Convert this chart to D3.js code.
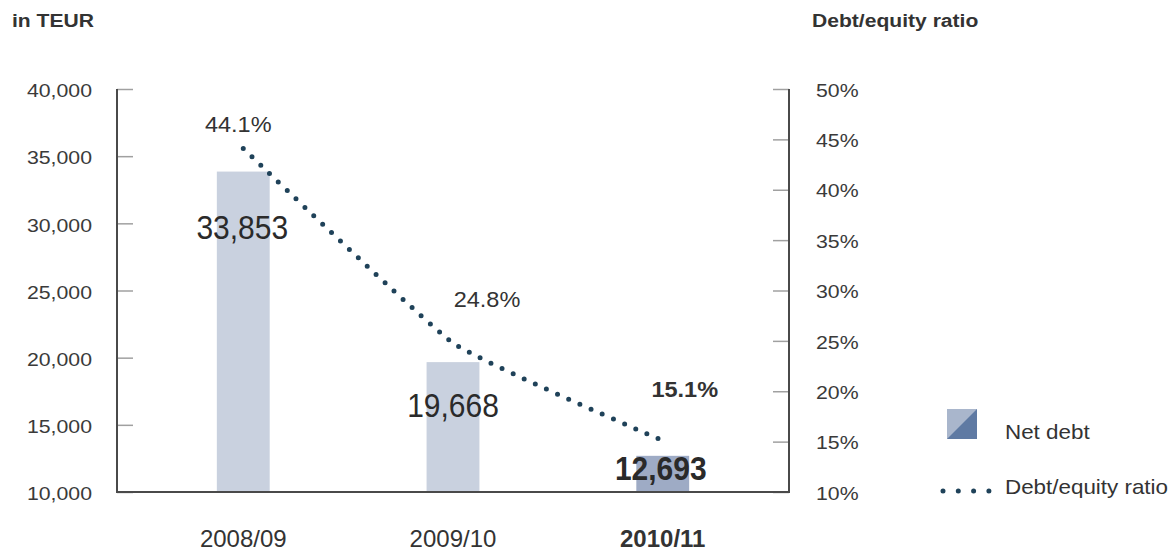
<!DOCTYPE html>
<html>
<head>
<meta charset="utf-8">
<script src="https://cdn.jsdelivr.net/npm/d3@7"></script>
<style>
  html, body { margin: 0; padding: 0; background: #fff; }
  svg { display: block; font-family: "Liberation Sans", Arial, sans-serif; }
</style>
</head>
<body>
<svg id="chart" width="1175" height="553"></svg>
<script>
// Fiscal years and values
const years = ["2008/09", "2009/10", "2010/11"];
const netDebt = [33853, 19668, 12693];          // TEUR
const debtEquity = [44.1, 24.8, 15.1];          // percent
const leftTicks = [10000, 15000, 20000, 25000, 30000, 35000, 40000];
const rightTicks = [10, 15, 20, 25, 30, 35, 40, 45, 50];
const netDebtLabels = ["33,853", "19,668", "12,693"];
const ratioLabels = ["44.1%", "24.8%", "15.1%"];

const svg = d3.select("#chart");

const plot = { left: 117, right: 789, top: 89, bottom: 492 };
const last = years.length - 1;

const x = d3.scaleBand()
  .domain(years)
  .range([plot.left, plot.right])
  .paddingInner(0.748)
  .paddingOuter(0.476);
const cx = d => x(d) + x.bandwidth() / 2;

const yL = d3.scaleLinear().domain([10000, 40000]).range([plot.bottom, plot.top]);
const yR = d3.scaleLinear().domain([10, 50]).range([plot.bottom, plot.top]);

const fmt = d3.format(",");

// Text placed by transform so it can be widened or heightened a little
function placeText(sel, fx, fy, sx, sy) {
  return sel.attr("transform", (d, i) =>
    `translate(${fx(d, i)},${fy(d, i)}) scale(${sx},${sy})`);
}

// Bars
svg.append("g").selectAll("rect")
  .data(years)
  .join("rect")
  .attr("x", d => x(d))
  .attr("width", x.bandwidth())
  .attr("y", (d, i) => yL(netDebt[i]))
  .attr("height", (d, i) => yL(10000) - yL(netDebt[i]))
  .attr("fill", (d, i) => i === last ? "#9eabc5" : "#c9d1df");

// Left axis ticks (drawn inward)
const axL = svg.append("g")
  .attr("transform", `translate(${plot.left},0)`)
  .call(d3.axisRight(yL).tickValues(leftTicks).tickSize(16).tickFormat(""));
axL.select(".domain").remove();
axL.selectAll(".tick line").attr("stroke", "#a0a0a0").attr("stroke-width", 1.5);
placeText(
  svg.append("g").selectAll("text")
    .data(leftTicks)
    .join("text")
    .attr("dy", "0.36em")
    .attr("text-anchor", "end")
    .attr("font-size", 18.5)
    .attr("fill", "#3a3a3a")
    .text(d => fmt(d)),
  () => 92, d => yL(d) + 1.5, 1.15, 1);

// Right axis ticks (drawn inward)
const axR = svg.append("g")
  .attr("transform", `translate(${plot.right},0)`)
  .call(d3.axisLeft(yR).tickValues(rightTicks).tickSize(16).tickFormat(""));
axR.select(".domain").remove();
axR.selectAll(".tick line").attr("stroke", "#a0a0a0").attr("stroke-width", 1.5);
placeText(
  svg.append("g").selectAll("text")
    .data(rightTicks)
    .join("text")
    .attr("dy", "0.36em")
    .attr("font-size", 18.5)
    .attr("fill", "#3a3a3a")
    .text(d => d + "%"),
  () => 816, d => yR(d) + 1, 1.15, 1);

// Frame: left, bottom, right lines
svg.append("path")
  .attr("d", `M${plot.left},${plot.top}V${plot.bottom}H${plot.right}V${plot.top}`)
  .attr("fill", "none")
  .attr("stroke", "#4a4a4a")
  .attr("stroke-width", 2);

// Category labels
svg.append("g").selectAll("text")
  .data(years)
  .join("text")
  .attr("x", d => cx(d))
  .attr("y", 547)
  .attr("text-anchor", "middle")
  .attr("font-size", 24)
  .attr("font-weight", (d, i) => i === last ? "bold" : "normal")
  .attr("fill", "#333")
  .text(d => d);

// Debt/equity ratio line (dotted)
const line = d3.line()
  .x((d, i) => cx(years[i]))
  .y(d => yR(d))
  .curve(d3.curveCardinal.tension(0.6));

svg.append("path")
  .datum(debtEquity)
  .attr("d", line)
  .attr("fill", "none")
  .attr("stroke", "#1f4259")
  .attr("stroke-width", 5)
  .attr("stroke-linecap", "round")
  .attr("stroke-dasharray", "0 12.2");

// Net debt value labels
const barLabelPos = [
  { dx: -1, y: 239 },
  { dx: 0, y: 417 },
  { dx: -2, y: 480 }
];
placeText(
  svg.append("g").selectAll("text")
    .data(netDebtLabels)
    .join("text")
    .attr("text-anchor", "middle")
    .attr("font-size", 30)
    .attr("font-weight", (d, i) => i === last ? "bold" : "normal")
    .attr("fill", "#2a2a2a")
    .text(d => d),
  (d, i) => cx(years[i]) + barLabelPos[i].dx,
  (d, i) => barLabelPos[i].y, 1, 1.1);

// Ratio value labels
const ratioLabelPos = [
  { dx: -5, y: 132 },
  { dx: 34, y: 307 },
  { dx: 22, y: 397 }
];
placeText(
  svg.append("g").selectAll("text")
    .data(ratioLabels)
    .join("text")
    .attr("text-anchor", "middle")
    .attr("font-size", 21)
    .attr("font-weight", (d, i) => i === last ? "bold" : "normal")
    .attr("fill", "#333")
    .text(d => d),
  (d, i) => cx(years[i]) + ratioLabelPos[i].dx,
  (d, i) => ratioLabelPos[i].y, 1.12, 1.05);

// Axis titles
const titles = [
  { text: "in TEUR", x: 12 },
  { text: "Debt/equity ratio", x: 812 }
];
placeText(
  svg.append("g").selectAll("text")
    .data(titles)
    .join("text")
    .attr("font-size", 19)
    .attr("font-weight", "bold")
    .attr("fill", "#333")
    .text(d => d.text),
  d => d.x, () => 27, 1.11, 1);

// Legend
const lg = svg.append("g");
const sq = { x: 947, y: 409, s: 30 };
lg.append("rect")
  .attr("x", sq.x).attr("y", sq.y).attr("width", sq.s).attr("height", sq.s)
  .attr("fill", "#a9b6cc");
lg.append("path")
  .attr("d", `M${sq.x},${sq.y + sq.s}L${sq.x + sq.s},${sq.y}V${sq.y + sq.s}Z`)
  .attr("fill", "#5f7aa3");
lg.append("line")
  .attr("x1", 943).attr("x2", 989).attr("y1", 491).attr("y2", 491)
  .attr("stroke", "#1f4259")
  .attr("stroke-width", 5)
  .attr("stroke-linecap", "round")
  .attr("stroke-dasharray", "0 15.3");
const legendItems = [
  { text: "Net debt", y: 439 },
  { text: "Debt/equity ratio", y: 494 }
];
placeText(
  lg.selectAll("text")
    .data(legendItems)
    .join("text")
    .attr("font-size", 20)
    .attr("fill", "#333")
    .text(d => d.text),
  () => 1005, d => d.y, 1.12, 1);
</script>
</body>
</html>
